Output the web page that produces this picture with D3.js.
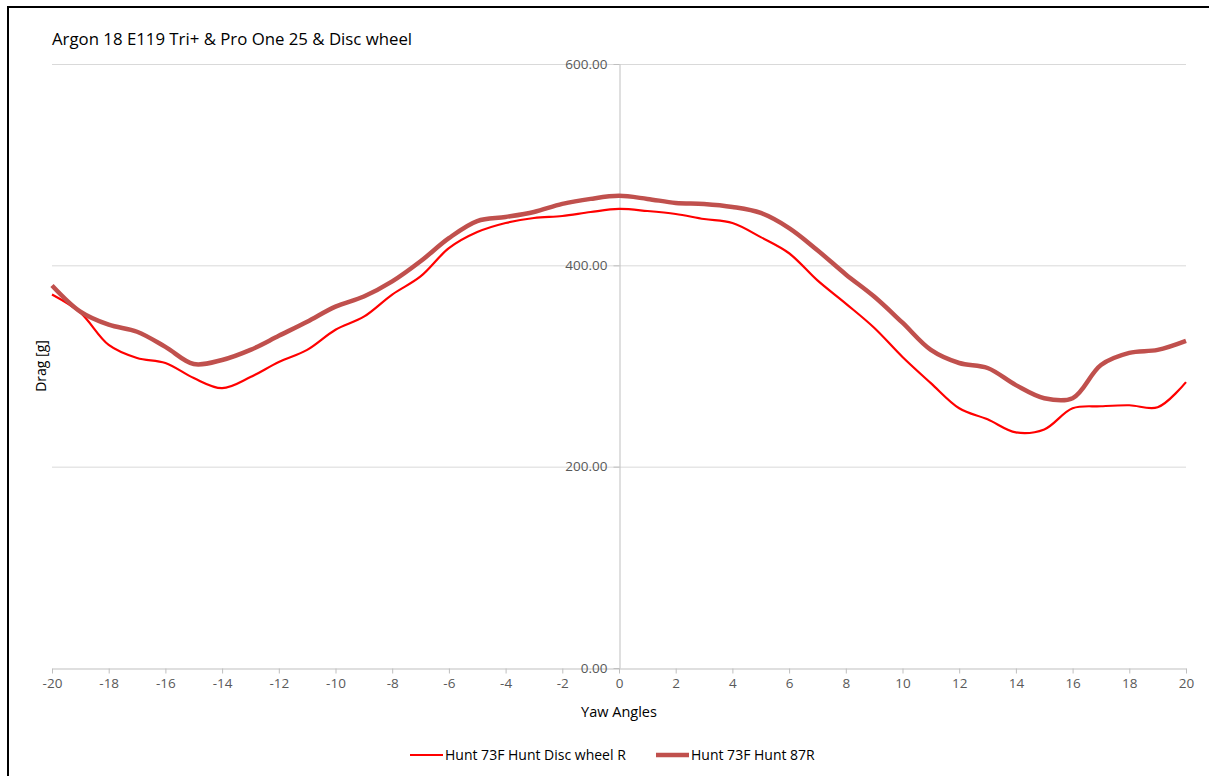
<!DOCTYPE html>
<html><head><meta charset="utf-8">
<script src="https://cdn.jsdelivr.net/npm/d3@7"></script>
<style>html,body{margin:0;padding:0;background:#fff;overflow:hidden}</style>
</head><body>
<svg id="chart" width="1209" height="776"></svg>
<script>
const yaw = [-20,-19,-18,-17,-16,-15,-14,-13,-12,-11,-10,-9,-8,-7,-6,-5,-4,-3,-2,-1,0,1,2,3,4,5,6,7,8,9,10,11,12,13,14,15,16,17,18,19,20];
const discWheel = [371,353,321,308,303,288,278,289,304,316,336,349,371,389,417,433,442,447,449,453,456,454,451,446,442,428,412,385,362,338,309,283,258,247,234,237,258,260,261,259,284];
const hunt87 = [380,354,341,334,319,302,306,316,330,344,359,369,384,404,427,444,448,453,461,466,469,466,462,461,458,452,437,415,391,369,343,316,303,298,281,268,268,301,313,316,325];
const yTicks = [0,200,400,600];
const xTicks = [-20,-18,-16,-14,-12,-10,-8,-6,-4,-2,0,2,4,6,8,10,12,14,16,18,20];
const seriesNames = ["Hunt 73F Hunt Disc wheel R","Hunt 73F Hunt 87R"];
const title = "Argon 18 E119 Tri+ & Pro One 25 & Disc wheel";

const font = "'Open Sans', sans-serif";
const svg = d3.select("#chart");
const x = d3.scaleLinear().domain([-20,20]).range([52,1186]);
const y = d3.scaleLinear().domain([0,600]).range([668,64]);

// frame
svg.append("rect").attr("x",8).attr("y",7).attr("width",1300).attr("height",900)
  .attr("fill","none").attr("stroke","#000").attr("stroke-width",2);

// title
svg.append("text").attr("x",52).attr("y",45).attr("font-family",font).attr("font-size",16.8)
  .attr("fill","#000").text(title);

// gridlines
svg.append("g").selectAll("line").data(yTicks.filter(d=>d>0)).join("line")
  .attr("x1",52).attr("x2",1186).attr("y1",d=>y(d)+0.5).attr("y2",d=>y(d)+0.5)
  .attr("stroke","#D9D9D9").attr("stroke-width",1);

// x axis
const xAxis = svg.append("g").attr("transform",`translate(0,${y(0)+0.5})`)
  .call(d3.axisBottom(x).tickValues(xTicks).tickFormat(d3.format("d")).tickSize(5).tickSizeOuter(0));
xAxis.select(".domain").attr("stroke","#BFBFBF");
xAxis.selectAll(".tick line").attr("stroke","#BFBFBF");
xAxis.selectAll("text").attr("font-family",font).attr("font-size",13.5).attr("fill","#595959").attr("dy","0.85em").attr("y",8)
  .text(d=>d<0?"-"+Math.abs(d):d);

// y axis at x=0
const yAxis = svg.append("g").attr("transform",`translate(${x(0)+0.5},0)`)
  .call(d3.axisLeft(y).tickValues(yTicks).tickFormat(d3.format(".2f")).tickSize(6).tickSizeOuter(0));
yAxis.select(".domain").attr("stroke","#BFBFBF");
yAxis.selectAll(".tick line").attr("stroke","#BFBFBF");
yAxis.selectAll("text").attr("font-family",font).attr("font-size",13.5).attr("fill","#595959").attr("x",-12);

// axis titles
svg.append("text").attr("transform","translate(46,366) rotate(-90)").attr("text-anchor","middle")
  .attr("font-family",font).attr("font-size",14).attr("fill","#000").text("Drag [g]");
svg.append("text").attr("x",619).attr("y",717).attr("text-anchor","middle")
  .attr("font-family",font).attr("font-size",14.5).attr("fill","#000").text("Yaw Angles");

// lines
const line = d3.line().x((d,i)=>x(yaw[i])).y(d=>y(d)).curve(d3.curveCatmullRom.alpha(0.5));
svg.append("path").datum(discWheel).attr("d",line).attr("fill","none").attr("stroke","#FF0000").attr("stroke-width",2.2);
svg.append("path").datum(hunt87).attr("d",line).attr("fill","none").attr("stroke","#C0504D").attr("stroke-width",4.5);

// legend
const leg = [{n:seriesNames[0],c:"#FF0000",w:2.2,x:410},{n:seriesNames[1],c:"#C0504D",w:4.5,x:656}];
leg.forEach(l=>{
  svg.append("line").attr("x1",l.x).attr("x2",l.x+33).attr("y1",755).attr("y2",755).attr("stroke",l.c).attr("stroke-width",l.w);
  svg.append("text").attr("x",l.x+35).attr("y",760).attr("font-family",font).attr("font-size",14).attr("fill","#000").text(l.n);
});
</script>
</body></html>
